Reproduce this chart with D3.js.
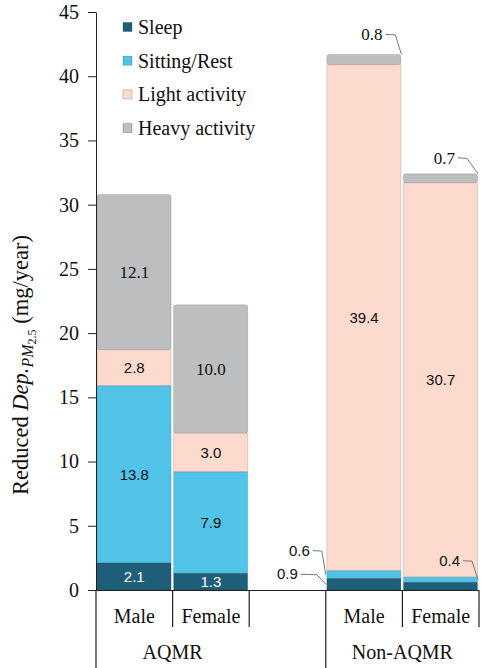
<!DOCTYPE html>
<html lang="en">
  <head>
    <meta charset="UTF-8" />
    <title>Reduced Dep PM2.5</title>
    <script src="https://cdn.jsdelivr.net/npm/d3@7"></script>
    <style>
      body { margin: 0; background: #fff; }
      svg { display: block; }
      .serif { font-family: "Liberation Serif", "DejaVu Serif", serif; }
      .sans { font-family: "Liberation Sans", Arimo, sans-serif; }
    </style>
  </head>
  <body>
    <div id="chart"></div>
    <script>
      // data
      const groups = ["AQMR", "Non-AQMR"];
      const sexes = ["Male", "Female"];
      const series = ["Sleep", "Sitting/Rest", "Light activity", "Heavy activity"];
      const colors = ["#1f5e79", "#52c3e8", "#fcdacd", "#bdbec0"];
      const sleep = [2.1, 1.3, 0.9, 0.6];
      const sitting = [13.8, 7.9, 0.6, 0.4];
      const light = [2.8, 3.0, 39.4, 30.7];
      const heavy = [12.1, 10.0, 0.8, 0.7];
      const yTicks = [0, 5, 10, 15, 20, 25, 30, 35, 40, 45];

      // small values shown with a leader line instead of inside the bar
      // side: which bar edge the line goes to
      const leaders = [
        { bar: 2, s: 0, side: "left", dx: -28, dy: -10, len: 16 },
        { bar: 2, s: 1, side: "left", dx: -16, dy: -24, len: 9 },
        { bar: 3, s: 1, side: "right", dx: -18, dy: -19, len: 9 },
        { bar: 2, s: 3, side: "right", dx: -19, dy: -20, len: 10 },
        { bar: 3, s: 3, side: "right", dx: -23, dy: -16, len: 9 },
      ];

      const width = 481;
      const height = 668;

      const svg = d3
        .select("#chart")
        .append("svg")
        .attr("width", width)
        .attr("height", height);

      // one key per slot, with an empty slot between the two groups
      const slots = ["AQMR|Male", "AQMR|Female", "gap", "Non-AQMR|Male", "Non-AQMR|Female"];
      const barKeys = slots.filter((k) => k !== "gap");

      const x = d3.scaleBand().domain(slots).range([96, 479]).padding(0);
      const y = d3.scaleLinear().domain([0, 45]).range([590, 12]);

      const values = [sleep, sitting, light, heavy];
      const table = barKeys.map((k, i) => {
        const row = { key: k };
        series.forEach((s, j) => (row[s] = values[j][i]));
        return row;
      });
      const stacked = d3.stack().keys(series)(table);

      // bars, top segment first so lower ones cover its rounded bottom
      const bars = svg.append("g");
      for (let j = series.length - 1; j >= 0; j--) {
        bars
          .selectAll(null)
          .data(stacked[j])
          .enter()
          .append("rect")
          .attr("x", (d) => x(d.data.key) + 1)
          .attr("width", x.bandwidth() - 2.5)
          .attr("y", (d) => y(d[1]))
          .attr("height", (d) => y(d[0]) - y(d[1]))
          .attr("rx", j === series.length - 1 ? 2.5 : 0)
          .attr("fill", colors[j])
          .attr("stroke", "rgba(0,0,0,0.13)")
          .attr("stroke-width", 1);
      }

      // value labels inside the bars
      const labels = svg.append("g").attr("text-anchor", "middle");
      stacked.forEach((layer, j) => {
        layer.forEach((d) => {
          const v = d[1] - d[0];
          if (v < 1) return;
          labels
            .append("text")
            .attr("class", j === 3 ? "serif" : "sans")
            .attr("x", x(d.data.key) + x.bandwidth() / 2)
            .attr("y", y((d[0] + d[1]) / 2))
            .attr("dy", "0.35em")
            .attr("font-size", j === 3 ? 17 : 15)
            .attr("fill", j === 0 ? "#fff" : "#111")
            .text(v.toFixed(1));
        });
      });

      // leader-line labels
      const lead = svg.append("g");
      leaders.forEach((l) => {
        const d = stacked[l.s][l.bar];
        const ax = l.side === "left" ? x(d.data.key) : x(d.data.key) + x.bandwidth() - 1;
        const ay = l.s === 3 ? y(d[1]) : y((d[0] + d[1]) / 2);
        const tx = ax + l.dx;
        const ty = ay + l.dy;
        lead
          .append("path")
          .attr("d", d3.line()([[tx + 3, ty], [tx + 3 + l.len, ty + 0.5], [ax, ay]]))
          .attr("fill", "none")
          .attr("stroke", "#777")
          .attr("stroke-width", 1);
        lead
          .append("text")
          .attr("class", l.s === 3 ? "serif" : "sans")
          .attr("x", tx)
          .attr("y", ty)
          .attr("dy", "0.35em")
          .attr("text-anchor", "end")
          .attr("font-size", l.s === 3 ? 17 : 15)
          .attr("fill", "#111")
          .text((d[1] - d[0]).toFixed(1));
      });

      // y axis
      const yAxis = svg
        .append("g")
        .attr("transform", "translate(96,0)")
        .call(d3.axisLeft(y).tickValues(yTicks).tickSize(8).tickSizeOuter(0).tickPadding(9));
      yAxis.attr("font-family", null);
      yAxis.selectAll("text").attr("class", "serif").attr("font-size", 20).attr("fill", "#111");
      yAxis.selectAll("line, path").attr("stroke", "#222");

      // bottom axis with category boxes
      const base = svg.append("g").attr("stroke", "#222").attr("stroke-width", 1.2);
      base.append("line").attr("x1", 96).attr("x2", 479).attr("y1", 590.5).attr("y2", 590.5);
      slots.forEach((k, i) => {
        const xs = x(k);
        const full = i === 0 || k === "Non-AQMR|Male";
        base
          .append("line")
          .attr("x1", xs)
          .attr("x2", xs)
          .attr("y1", 590)
          .attr("y2", full ? height : 627);
      });
      base.append("line").attr("x1", 479).attr("x2", 479).attr("y1", 590).attr("y2", 627);

      const cats = svg
        .append("g")
        .attr("class", "serif")
        .attr("text-anchor", "middle")
        .attr("font-size", 20)
        .attr("fill", "#111");
      barKeys.forEach((k) => {
        cats
          .append("text")
          .attr("x", x(k) + x.bandwidth() / 2)
          .attr("y", 623)
          .text(k.split("|")[1]);
      });
      groups.forEach((g) => {
        const a = x(g + "|Male");
        const b = x(g + "|Female") + x.bandwidth();
        cats
          .append("text")
          .attr("x", (a + b) / 2)
          .attr("y", 659)
          .text(g);
      });

      // y axis title, starts at the bottom
      const title = svg
        .append("text")
        .attr("class", "serif")
        .attr("transform", "translate(28,495) rotate(-90)")
        .attr("text-anchor", "start")
        .attr("font-size", 22.5)
        .attr("fill", "#111");
      title.append("tspan").text("Reduced ");
      title.append("tspan").attr("font-style", "italic").text("Dep.");
      title.append("tspan").attr("font-style", "italic").attr("font-size", 16).attr("dy", 5).text("PM");
      title.append("tspan").attr("font-size", 12).attr("dy", 3).text("2.5");
      title.append("tspan").attr("dy", -8).text(" (mg/year)");

      // legend
      const legend = svg
        .append("g")
        .selectAll("g")
        .data(series)
        .enter()
        .append("g")
        .attr("transform", (d, i) => `translate(123,${27 + i * 33.7})`);
      legend
        .append("rect")
        .attr("x", 0)
        .attr("y", -4.5)
        .attr("width", 9)
        .attr("height", 9)
        .attr("fill", (d, i) => colors[i])
        .attr("stroke", "rgba(0,0,0,0.25)")
        .attr("stroke-width", 0.8);
      legend
        .append("text")
        .attr("class", "serif")
        .attr("x", 15)
        .attr("y", 7)
        .attr("font-size", 20)
        .attr("fill", "#111")
        .text((d) => d);
    </script>
  </body>
</html>
